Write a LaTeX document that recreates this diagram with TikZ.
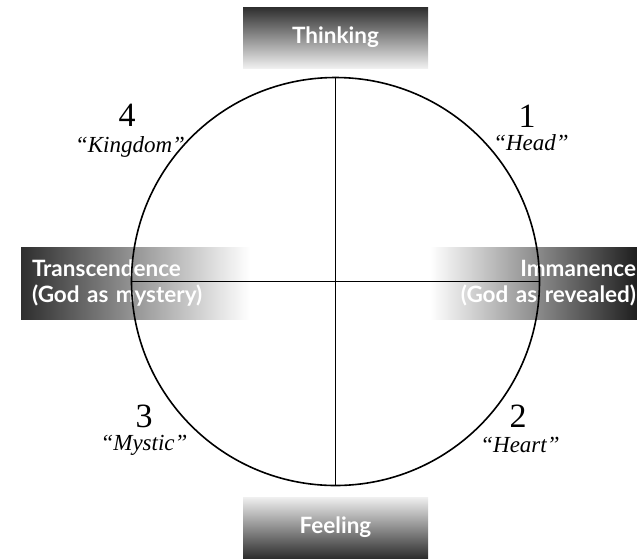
\documentclass[tikz,border=0pt]{standalone}
\usepackage{fontspec}
\setmainfont{Liberation Serif}
\setsansfont{Lato}
\usetikzlibrary{shapes.geometric}

\begin{document}
\begin{tikzpicture}[
  x=1pt, y=-1pt,
  band/.style={rectangle, inner sep=0pt, minimum width=185pt, minimum height=61pt, text=white, font=\sffamily\bfseries\fontsize{22.5}{26}\selectfont},
  side/.style={rectangle, inner ysep=0pt, minimum height=72pt, text=white, font=\sffamily\bfseries\fontsize{22.5}{26}\selectfont},
  num/.style={anchor=base, font=\fontsize{34}{34}\selectfont},
  quad/.style={anchor=base, font=\itshape\fontsize{23}{23}\selectfont},
  axisline/.style={line width=1.5pt}
]
\useasboundingbox (0,0) rectangle (637,558);

% the four pole bands
\node (thinking) [band, top color=black!82, bottom color=black!6] at (335.5,37.5) {Thinking};
\node (feeling) [band, top color=black!6, bottom color=black!82] at (335.5,527.5) {Feeling};
\node (transc) [side, left color=black!82, right color=white, text width=207pt, inner xsep=11pt, align=left] at (135.5,283.5) {Transcendence\\(God as mystery)};
\node (immanence) [side, left color=white, right color=black!88, text width=205pt, inner xsep=1pt, align=right] at (533.5,283) {Immanence\\(God as revealed)};

% circle and axes
\node (wheel) [circle, draw, line width=1.6pt, minimum size=408pt, inner sep=0pt] at (335.5,281.5) {};
\draw [axisline] (wheel.north) -- (wheel.south);
\draw [axisline] (wheel.west) -- (wheel.east);

% quadrant labels
\node (one) [num] at (527,127) {1};
\node (head) [quad] at (531,150) {“Head”};
\node (two) [num] at (518,427) {2};
\node (heart) [quad] at (520,452) {“Heart”};
\node (three) [num] at (144,427) {3};
\node (mystic) [quad] at (144,450) {“Mystic”};
\node (four) [num] at (127,126) {4};
\node (kingdom) [quad] at (130,152) {“Kingdom”};

\end{tikzpicture}
\end{document}
